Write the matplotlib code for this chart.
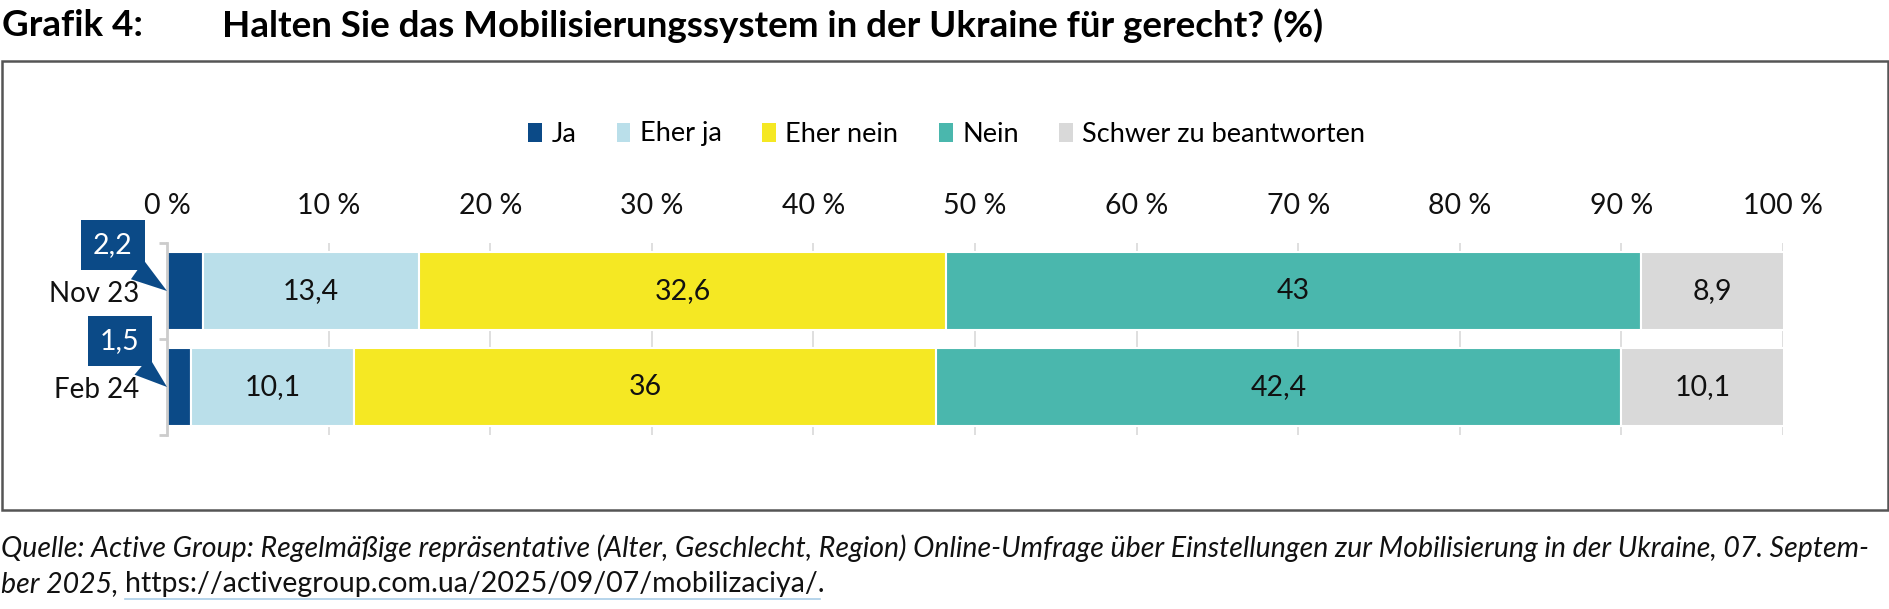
import numpy as np
import matplotlib.pyplot as plt
from matplotlib.patches import Rectangle, Patch
from matplotlib.lines import Line2D

plt.rcParams['font.family'] = ['Lato', 'DejaVu Sans']

# data
periods = ['Nov 23', 'Feb 24']
answers = ['Ja', 'Eher ja', 'Eher nein', 'Nein', 'Schwer zu beantworten']
ja = [2.2, 1.5]
eher_ja = [13.4, 10.1]
eher_nein = [32.6, 36.0]
nein = [43.0, 42.4]
schwer = [8.9, 10.1]
ticks = [0, 10, 20, 30, 40, 50, 60, 70, 80, 90, 100]
tick_labels = ['0 %', '10 %', '20 %', '30 %', '40 %', '50 %',
               '60 %', '70 %', '80 %', '90 %', '100 %']

colors = ['#0B4A87', '#BADFEA', '#F5E823', '#4AB7AD', '#D9D9D9']
series = [ja, eher_ja, eher_nein, nein, schwer]

fig = plt.figure(figsize=(18.9, 6.09), dpi=100)
W, H = 1890, 609
ax = fig.add_axes([167 / W, 1 - 435 / H, 1616 / W, 192 / H])

y = np.arange(len(periods))
left = np.zeros(len(periods))
for vals, col in zip(series, colors):
    vals = np.array(vals)
    ax.barh(y, vals, left=left, height=0.81, color=col,
            edgecolor='white', linewidth=1.5, zorder=2)
    left += vals

# value labels (Ja gets callouts)
left = np.array(ja, dtype=float)
for vals in series[1:]:
    for i, v in enumerate(vals):
        txt = f'{v:g}'.replace('.', ',')
        ax.text(left[i] + v / 2, i, txt, ha='center', va='center',
                fontsize=20.5, color='#111111', zorder=3)
    left += np.array(vals)

# callouts for Ja
offsets = [(-54, 46), (-47, 46)]
for i, v in enumerate(ja):
    ax.annotate(f'{v:g}'.replace('.', ','), xy=(0, i),
                xytext=offsets[i], textcoords='offset pixels',
                ha='center', va='center', fontsize=20.5, color='white',
                bbox=dict(boxstyle='square,pad=0.42', fc=colors[0], ec='none'),
                arrowprops=dict(arrowstyle='wedge,tail_width=0.8', fc=colors[0],
                                ec='none', shrinkA=0, shrinkB=0, relpos=(0.65, 0.05)),
                zorder=5, annotation_clip=False)

ax.set_xlim(0, 100)
ax.set_ylim(1.5, -0.5)
ax.xaxis.tick_top()
ax.set_xticks(ticks)
ax.set_xticklabels(tick_labels, fontsize=20.5, color='#111111')
ax.tick_params(axis='x', length=0, pad=17)
ax.grid(axis='x', color='#D9D9D9', linewidth=1.2, zorder=0)
ax.set_axisbelow(True)

ax.set_yticks(y)
ax.set_yticklabels(periods, fontsize=20, color='#111111')
ax.set_yticks([-0.5, 0.5, 1.5], minor=True)
ax.tick_params(axis='y', which='major', length=0, pad=20)
ax.tick_params(axis='y', which='minor', length=6, color='#CCCCCC', width=2)

for s in ['top', 'right', 'bottom']:
    ax.spines[s].set_visible(False)
ax.spines['left'].set_color('#CCCCCC')
ax.spines['left'].set_linewidth(2)

# legend
handles = [Patch(facecolor=c, edgecolor='none') for c in colors]
fig.legend(handles, answers, loc='center', bbox_to_anchor=(0.501, 1 - 134 / H),
           ncol=5, frameon=False, fontsize=19.5, handlelength=0.5, handleheight=0.7,
           handletextpad=0.35, columnspacing=1.5)

# frame
fig.patches.append(Rectangle((0.001, 1 - 510 / H), 0.998, 449 / H,
                             transform=fig.transFigure, fill=False,
                             edgecolor='#555555', linewidth=1.8))

# title
fig.text(2 / W, 1 - 26 / H, 'Grafik 4:', fontsize=26.5, fontweight='bold',
         va='center', ha='left')
fig.text(222 / W, 1 - 26 / H,
         'Halten Sie das Mobilisierungssystem in der Ukraine für gerecht? (%)',
         fontsize=26.5, fontweight='bold', va='center', ha='left')

# source
fig.text(1 / W, 1 - 548 / H,
         'Quelle: Active Group: Regelmäßige repräsentative (Alter, Geschlecht, Region) '
         'Online-Umfrage über Einstellungen zur Mobilisierung in der Ukraine, 07. Septem-',
         fontsize=20.5, style='italic', va='center', ha='left', color='#111111')
t2 = fig.text(1 / W, 1 - 584 / H, 'ber 2025, ', fontsize=20.5, style='italic',
              va='center', ha='left', color='#111111')
fig.canvas.draw()
r = fig.canvas.get_renderer()
bb = t2.get_window_extent(r)
url = fig.text(bb.x1 / W, 1 - 584 / H, 'https://activegroup.com.ua/2025/09/07/mobilizaciya/.',
               fontsize=20.5, va='center', ha='left', color='#111111')
ub = url.get_window_extent(r)
fig.add_artist(Line2D([ub.x0 / W, (ub.x1 - 5) / W], [1 - 599 / H, 1 - 599 / H],
                      transform=fig.transFigure, color='#A9CDE8', linewidth=1.2))

fig.savefig('out.png', dpi=100)
